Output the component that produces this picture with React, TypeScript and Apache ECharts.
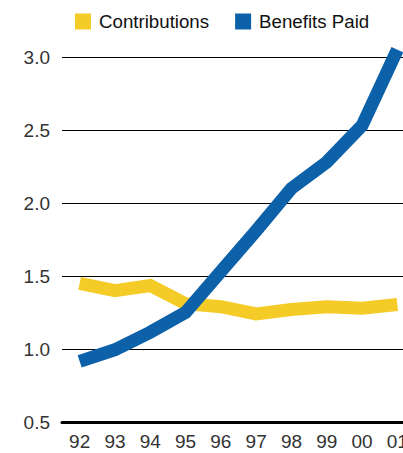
import React, { useEffect, useRef } from "react";
import * as echarts from "echarts";

const years = ["92", "93", "94", "95", "96", "97", "98", "99", "00", "01"];
const contributions = [1.45, 1.4, 1.435, 1.31, 1.29, 1.24, 1.27, 1.29, 1.28, 1.305];
const benefitsPaid = [0.915, 0.995, 1.115, 1.25, 1.53, 1.81, 2.1, 2.28, 2.53, 3.05];
const yTicks = { min: 0.5, max: 3.0, interval: 0.5 };

const YELLOW = "#F5CB28";
const BLUE = "#0D61A8";
const FONT = "'Liberation Sans', Arial, sans-serif";

export default function App() {
  const ref = useRef<HTMLDivElement>(null);
  useEffect(() => {
    if (!ref.current) return;
    const chart = echarts.init(ref.current, undefined, { renderer: "svg" });
    chart.setOption({
      animation: false,
      backgroundColor: "#ffffff",
      legend: {
        left: 75,
        top: 12,
        padding: 0,
        icon: "rect",
        itemWidth: 16,
        itemHeight: 16,
        itemGap: 26,
        textStyle: {
          fontFamily: FONT,
          fontSize: 18.7,
          color: "#111",
          padding: [0, 0, 0, 3],
        },
        data: ["Contributions", "Benefits Paid"],
      },
      grid: { left: 62, top: 57, right: 0, bottom: 31, containLabel: false },
      xAxis: {
        type: "category",
        data: years,
        boundaryGap: true,
        axisTick: { show: false },
        axisLine: { show: true, lineStyle: { color: "#000", width: 3 } },
        axisLabel: {
          margin: 10,
          fontFamily: FONT,
          fontSize: 19,
          color: "#333",
        },
      },
      yAxis: {
        type: "value",
        min: yTicks.min,
        max: yTicks.max,
        interval: yTicks.interval,
        axisLine: { show: false },
        axisTick: { show: false },
        splitLine: { show: true, lineStyle: { color: "#000", width: 1 } },
        axisLabel: {
          margin: 12,
          fontFamily: FONT,
          fontSize: 19,
          color: "#333",
          verticalAlign: "middle",
          padding: [0, 0, 8, 0],
          formatter: (v: number) => v.toFixed(1),
        },
      },
      series: [
        {
          name: "Contributions",
          type: "line",
          data: contributions,
          symbol: "none",
          clip: false,
          itemStyle: { color: YELLOW },
          lineStyle: { color: YELLOW, width: 13, cap: "butt", join: "miter" },
        },
        {
          name: "Benefits Paid",
          type: "line",
          data: benefitsPaid,
          symbol: "none",
          clip: false,
          itemStyle: { color: BLUE },
          lineStyle: { color: BLUE, width: 13, cap: "butt", join: "miter" },
        },
      ],
    });
    return () => chart.dispose();
  }, []);
  return (
    <div
      style={{
        position: "fixed",
        left: 0,
        top: 0,
        width: 403,
        height: 453,
        overflow: "hidden",
        background: "#fff",
      }}
    >
      <div ref={ref} style={{ width: 415, height: 453 }} />
    </div>
  );
}
